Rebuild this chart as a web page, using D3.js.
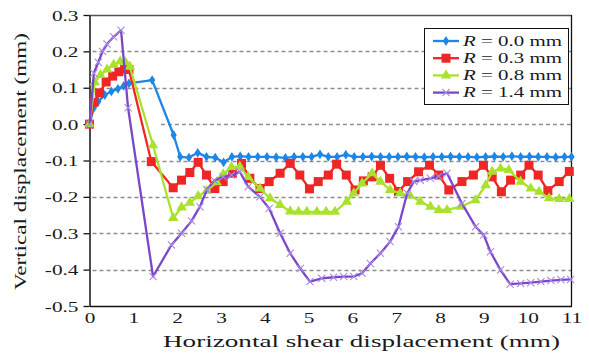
<!DOCTYPE html>
<html><head><meta charset="utf-8">
<script src="https://cdn.jsdelivr.net/npm/d3@7"></script>
<style>
html,body{margin:0;padding:0;background:#fff;}
svg{display:block;}
text{font-family:"Liberation Serif","Times New Roman",serif;fill:#1a1a1a;}
</style></head>
<body>
<svg id="chart" width="589" height="362"></svg>
<script>
// ---------- data ----------
const xTicks = [0,1,2,3,4,5,6,7,8,9,10,11];
const yTicks = [0.3,0.2,0.1,0.0,-0.1,-0.2,-0.3,-0.4,-0.5];
const seriesNames = ["0.0","0.3","0.8","1.4"];

const r00X = [0,0.1,0.2,0.35,0.5,0.65,0.78,0.9,1.43,1.92,2.07,2.27,2.47,2.67,2.87,3.06,3.25,3.44,3.63,3.84,4.05,4.26,4.47,4.67,4.87,5.07,5.26,5.45,5.65,5.85,6.04,6.24,6.44,6.64,6.84,7.04,7.24,7.44,7.64,7.84,8.04,8.24,8.44,8.64,8.84,9.04,9.24,9.44,9.64,9.84,10.04,10.24,10.44,10.64,10.84,11.0];
const r00Y = [0,0.045,0.062,0.08,0.09,0.097,0.105,0.112,0.121,-0.03,-0.09,-0.092,-0.079,-0.09,-0.092,-0.105,-0.09,-0.088,-0.09,-0.09,-0.09,-0.091,-0.093,-0.09,-0.09,-0.09,-0.083,-0.09,-0.09,-0.084,-0.09,-0.09,-0.089,-0.09,-0.09,-0.09,-0.089,-0.09,-0.091,-0.09,-0.09,-0.089,-0.09,-0.09,-0.091,-0.09,-0.089,-0.09,-0.088,-0.09,-0.089,-0.09,-0.09,-0.091,-0.09,-0.09];

const r03X = [0,0.1,0.23,0.38,0.53,0.67,0.8,0.9,1.41,1.91,2.1,2.29,2.48,2.67,2.86,3.05,3.26,3.47,3.66,3.89,4.1,4.35,4.58,4.8,5.02,5.22,5.45,5.64,5.86,6.06,6.25,6.45,6.64,6.85,7.05,7.26,7.51,7.76,7.97,8.2,8.5,8.76,8.99,9.19,9.4,9.61,9.84,10.03,10.24,10.46,10.72,10.95];
const r03Y = [0,0.06,0.086,0.116,0.132,0.144,0.152,0.15,-0.103,-0.175,-0.154,-0.133,-0.105,-0.14,-0.177,-0.158,-0.135,-0.108,-0.149,-0.177,-0.158,-0.135,-0.108,-0.14,-0.178,-0.158,-0.14,-0.11,-0.14,-0.181,-0.156,-0.145,-0.113,-0.149,-0.185,-0.158,-0.131,-0.113,-0.14,-0.181,-0.158,-0.14,-0.113,-0.145,-0.186,-0.154,-0.14,-0.113,-0.14,-0.183,-0.158,-0.13];

const r08X = [0,0.12,0.25,0.4,0.55,0.7,0.82,0.92,1.45,1.91,2.1,2.29,2.48,2.67,2.9,3.05,3.24,3.43,3.62,3.89,4.12,4.35,4.58,4.77,4.96,5.19,5.4,5.6,5.87,6.03,6.22,6.45,6.64,6.86,7.09,7.32,7.55,7.78,7.97,8.16,8.47,8.81,9.04,9.19,9.38,9.57,9.84,10.07,10.26,10.49,10.72,10.95];
const r08Y = [0,0.115,0.135,0.15,0.163,0.172,0.17,0.158,-0.058,-0.258,-0.229,-0.216,-0.198,-0.184,-0.16,-0.138,-0.118,-0.117,-0.145,-0.177,-0.204,-0.222,-0.24,-0.241,-0.241,-0.241,-0.241,-0.241,-0.213,-0.19,-0.163,-0.135,-0.158,-0.181,-0.19,-0.197,-0.213,-0.227,-0.236,-0.236,-0.227,-0.209,-0.168,-0.131,-0.122,-0.126,-0.158,-0.177,-0.186,-0.204,-0.206,-0.206];

const r14X = [0,0.1,0.2,0.3,0.4,0.55,0.72,0.88,1.45,1.87,2.1,2.33,2.52,2.68,2.85,3.05,3.24,3.43,3.62,3.89,4.1,4.35,4.58,4.81,5.03,5.3,5.57,5.8,6.03,6.22,6.41,6.64,6.86,7.05,7.25,7.4,7.55,7.78,7.97,8.16,8.5,8.81,9.0,9.15,9.38,9.6,9.84,10.07,10.3,10.53,10.76,10.98];
const r14Y = [0,0.14,0.17,0.2,0.22,0.24,0.258,0.045,-0.419,-0.332,-0.3,-0.266,-0.227,-0.18,-0.155,-0.145,-0.14,-0.131,-0.172,-0.2,-0.232,-0.3,-0.355,-0.397,-0.433,-0.424,-0.421,-0.419,-0.419,-0.41,-0.383,-0.355,-0.323,-0.282,-0.19,-0.158,-0.154,-0.149,-0.143,-0.135,-0.218,-0.282,-0.305,-0.351,-0.401,-0.44,-0.438,-0.436,-0.433,-0.43,-0.428,-0.427];

// ---------- layout ----------
const svg = d3.select("#chart");
const L = 89.5, R = 571.5, T = 15, B = 306;
const x = d3.scaleLinear().domain([0,11]).range([L, R]);
const y = d3.scaleLinear().domain([-0.5,0.3]).range([B, T]);
const SX = 1.42; // horizontal glyph stretch of the original

const colors = ["#1f86e6","#ee2626","#a9e22c","#7a47c9"];
const markerCols = ["#1f86e6","#ee2626","#a9e22c","#a88ae4"];
const seriesData = [
  d3.zip(r00X, r00Y), d3.zip(r03X, r03Y), d3.zip(r08X, r08Y), d3.zip(r14X, r14Y)
];

// gridlines
svg.append("g").selectAll("line").data(yTicks.filter(v => v > -0.5 && v < 0.3))
  .join("line")
  .attr("x1", d => d === 0 ? x(1.63) : L + 3).attr("x2", R)
  .attr("y1", d => Math.round(y(d)) + 0.5).attr("y2", d => Math.round(y(d)) + 0.5)
  .attr("stroke", "#8f8f8f").attr("stroke-width", 1.5).attr("stroke-dasharray", "4,3");

// frame top/right
svg.append("line").attr("x1", L).attr("x2", R).attr("y1", T + 0.5).attr("y2", T + 0.5)
  .attr("stroke", "#555").attr("stroke-width", 1.4);
svg.append("line").attr("x1", R).attr("x2", R).attr("y1", T).attr("y2", B)
  .attr("stroke", "#111").attr("stroke-width", 1.3);

// axes
const yAxis = svg.append("g").attr("transform", `translate(${L},0)`)
  .call(d3.axisLeft(y).tickValues(yTicks).tickFormat(d => d.toFixed(1)).tickSize(6).tickSizeOuter(0));
yAxis.select(".domain").attr("stroke", "#111").attr("stroke-width", 1.5);
yAxis.selectAll(".tick line").attr("stroke", "#111").attr("stroke-width", 1.3);
yAxis.selectAll(".tick text")
  .attr("x", null).attr("dy", null)
  .attr("transform", `translate(-11,5) scale(${SX},1)`)
  .style("font-size", "15px").style("font-family", '"Liberation Serif",serif').attr("fill", "#1a1a1a");

const xAxis = svg.append("g").attr("transform", `translate(0,${B})`)
  .call(d3.axisBottom(x).tickValues(xTicks).tickFormat(d => String(d)).tickSize(0).tickSizeOuter(0));
xAxis.select(".domain").attr("stroke", "#111").attr("stroke-width", 1.5);
xAxis.selectAll(".tick text")
  .attr("y", null).attr("dy", null)
  .attr("transform", `translate(0,17) scale(${SX},1)`)
  .style("font-size", "15px").style("font-family", '"Liberation Serif",serif').attr("fill", "#1a1a1a");

// axis titles
svg.append("text").text("Horizontal shear displacement (mm)")
  .attr("x", 163).attr("y", 347).style("font-size", "16.5px")
  .attr("textLength", 397).attr("lengthAdjust", "spacingAndGlyphs");
svg.append("text").text("Vertical displacement (mm)")
  .attr("transform", `translate(26,161.5) scale(1.1,1) rotate(-90)`)
  .attr("text-anchor", "middle").style("font-size", "15.5px")
  .attr("textLength", 257).attr("lengthAdjust", "spacingAndGlyphs");

// marker shapes
function drawMarker(g, i, cx, cy) {
  if (i === 0) {
    g.append("path").attr("d", d3.symbol(d3.symbolDiamond, 28)())
      .attr("transform", `translate(${cx},${cy}) scale(1.1,1)`).attr("fill", markerCols[0]);
  } else if (i === 1) {
    g.append("rect").attr("x", cx - 4.5).attr("y", cy - 4.5).attr("width", 9).attr("height", 9)
      .attr("fill", markerCols[1]);
  } else if (i === 2) {
    g.append("path").attr("d", d3.symbol(d3.symbolTriangle, 48)())
      .attr("transform", `translate(${cx},${cy})`).attr("fill", markerCols[2]);
  } else {
    const s = 3.6;
    g.append("path").attr("d", `M${cx-s},${cy-s}L${cx+s},${cy+s}M${cx-s},${cy+s}L${cx+s},${cy-s}`)
      .attr("stroke", markerCols[3]).attr("stroke-width", 1.1).attr("fill", "none");
  }
}

// series
const line = d3.line().x(d => x(d[0])).y(d => y(d[1]));
seriesData.forEach((data, i) => {
  const g = svg.append("g");
  g.append("path").datum(data).attr("d", line)
    .attr("fill", "none").attr("stroke", colors[i]).attr("stroke-width", 2.3)
    .attr("stroke-linejoin", "round");
  data.forEach(d => drawMarker(g, i, x(d[0]), y(d[1])));
});

// legend
const lg = svg.append("g");
lg.append("rect").attr("x", 424.5).attr("y", 28.5).attr("width", 144).attr("height", 76)
  .attr("fill", "#fff").attr("stroke", "#111").attr("stroke-width", 1);
seriesNames.forEach((nm, i) => {
  const cy = 41 + i * 17.2;
  lg.append("line").attr("x1", 433).attr("x2", 459).attr("y1", cy).attr("y2", cy)
    .attr("stroke", colors[i]).attr("stroke-width", 2.3);
  drawMarker(lg, i, 446, cy);
  const t = lg.append("text").attr("x", 463).attr("y", cy + 4.5).style("font-size", "15px")
    .attr("textLength", 99).attr("lengthAdjust", "spacingAndGlyphs");
  t.append("tspan").style("font-style", "italic").text("R");
  t.append("tspan").text(" = " + nm + " mm");
});
</script>
</body></html>
